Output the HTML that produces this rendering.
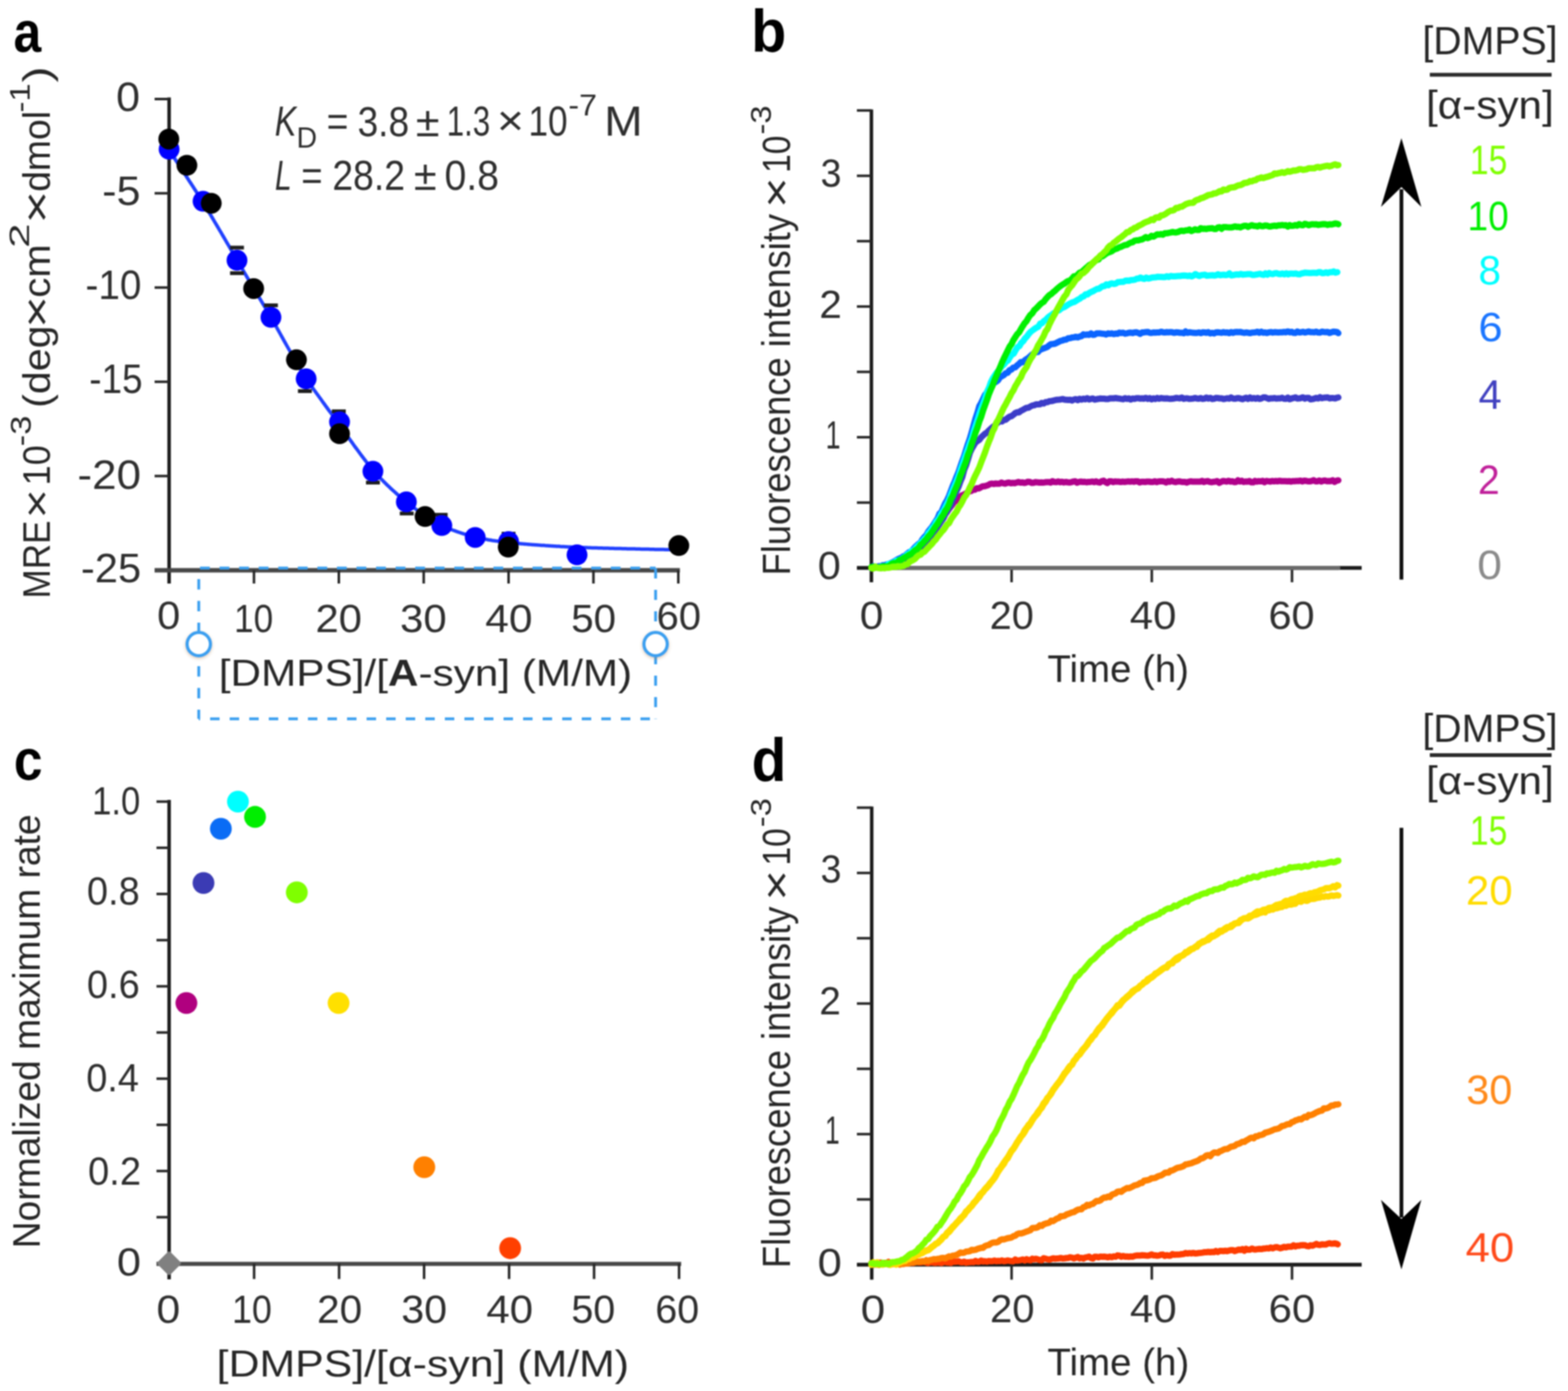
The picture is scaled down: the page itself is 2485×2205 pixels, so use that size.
<!DOCTYPE html>
<html><head><meta charset="utf-8"><title>Figure</title>
<style>
html,body{margin:0;padding:0;background:#fff;}
svg{display:block;} #w{filter:blur(0.8px);}
svg text{font-family:"Liberation Sans", "DejaVu Sans", sans-serif;}
</style></head>
<body><div id="w">
<svg xmlns="http://www.w3.org/2000/svg" width="2485" height="2205" viewBox="0 0 2485 2205" fill="#222">
<rect width="2485" height="2205" fill="#fff"/>
<line x1="268" y1="154.5" x2="268" y2="925" stroke="#1a1a1a" stroke-width="5.5"/>
<line x1="245" y1="157" x2="268" y2="157" stroke="#262626" stroke-width="4"/>
<line x1="245" y1="306.4" x2="268" y2="306.4" stroke="#262626" stroke-width="4"/>
<line x1="245" y1="455.8" x2="268" y2="455.8" stroke="#262626" stroke-width="4"/>
<line x1="245" y1="605.2" x2="268" y2="605.2" stroke="#262626" stroke-width="4"/>
<line x1="245" y1="754.6" x2="268" y2="754.6" stroke="#262626" stroke-width="4"/>
<line x1="245" y1="904" x2="1077.5" y2="904" stroke="#474747" stroke-width="7"/>
<line x1="402.5" y1="904" x2="402.5" y2="925" stroke="#262626" stroke-width="4"/>
<line x1="537" y1="904" x2="537" y2="925" stroke="#262626" stroke-width="4"/>
<line x1="671.5" y1="904" x2="671.5" y2="925" stroke="#262626" stroke-width="4"/>
<line x1="806" y1="904" x2="806" y2="925" stroke="#262626" stroke-width="4"/>
<line x1="940.5" y1="904" x2="940.5" y2="925" stroke="#262626" stroke-width="4"/>
<line x1="1075" y1="904" x2="1075" y2="925" stroke="#262626" stroke-width="4"/>
<g stroke="#3a9ff0" stroke-width="4.5" fill="none">
<line x1="315" y1="900.5" x2="1039" y2="900.5" stroke-dasharray="15.5 15.5" stroke-dashoffset="-2"/>
<line x1="315" y1="1139.5" x2="1039" y2="1139.5" stroke-dasharray="15 16" stroke-dashoffset="-18"/>
<line x1="315" y1="901" x2="315" y2="1139.5" stroke-dasharray="16.5 18" stroke-dashoffset="-17"/>
<line x1="1039" y1="901" x2="1039" y2="1139.5" stroke-dasharray="16 18" stroke-dashoffset="0"/>
</g>
<path d="M268 238 L270 241 L272 244 L274 247.1 L276 250.1 L278 253.1 L280 256.2 L282 259.2 L284 262.3 L286 265.3 L288 268.4 L290 271.5 L292 274.5 L294 277.6 L296 280.7 L298 283.8 L300 286.9 L302 289.9 L304 293 L306 296.1 L308 299.2 L310 302.3 L312 305.4 L314 308.6 L316 311.7 L318 314.9 L320 318.1 L322 321.3 L324 324.6 L326 327.8 L328 331.1 L330 334.5 L332 337.8 L334 341.1 L336 344.5 L338 347.9 L340 351.3 L342 354.7 L344 358 L346 361.4 L348 364.8 L350 368.2 L352 371.6 L354 375 L356 378.4 L358 381.8 L360 385.3 L362 388.7 L364 392.1 L366 395.5 L368 399 L370 402.4 L372 405.8 L374 409.3 L376 412.7 L378 416.1 L380 419.5 L382 423 L384 426.4 L386 429.8 L388 433.3 L390 436.7 L392 440.1 L394 443.5 L396 447 L398 450.4 L400 453.8 L402 457.2 L404 460.5 L406 463.9 L408 467.2 L410 470.5 L412 473.8 L414 477.2 L416 480.5 L418 483.8 L420 487.1 L422 490.4 L424 493.8 L426 497.2 L428 500.6 L430 504 L432 507.5 L434 511.1 L436 514.6 L438 518.2 L440 521.8 L442 525.4 L444 529 L446 532.6 L448 536.2 L450 539.8 L452 543.4 L454 547 L456 550.5 L458 554 L460 557.5 L462 561 L464 564.6 L466 568.1 L468 571.6 L470 575.1 L472 578.6 L474 582 L476 585.4 L478 588.7 L480 591.9 L482 595.1 L484 598.2 L486 601.3 L488 604.3 L490 607.2 L492 610 L494 612.9 L496 615.7 L498 618.5 L500 621.2 L502 624 L504 626.7 L506 629.5 L508 632.2 L510 635 L512 637.8 L514 640.5 L516 643.3 L518 646 L520 648.8 L522 651.5 L524 654.2 L526 656.9 L528 659.6 L530 662.4 L532 665.1 L534 667.9 L536 670.6 L538 673.4 L540 676.2 L542 679 L544 681.9 L546 684.7 L548 687.6 L550 690.4 L552 693.3 L554 696.1 L556 698.9 L558 701.7 L560 704.5 L562 707.3 L564 710 L566 712.7 L568 715.4 L570 718.1 L572 720.8 L574 723.5 L576 726.2 L578 728.8 L580 731.4 L582 734 L584 736.6 L586 739 L588 741.5 L590 743.8 L592 746.1 L594 748.4 L596 750.6 L598 752.8 L600 755 L602 757.1 L604 759.2 L606 761.2 L608 763.3 L610 765.3 L612 767.2 L614 769.2 L616 771.1 L618 773 L620 774.9 L622 776.7 L624 778.5 L626 780.3 L628 782.1 L630 783.9 L632 785.6 L634 787.3 L636 789 L638 790.6 L640 792.3 L642 793.9 L644 795.5 L646 797.1 L648 798.7 L650 800.3 L652 801.8 L654 803.4 L656 804.9 L658 806.4 L660 807.9 L662 809.4 L664 810.8 L666 812.2 L668 813.6 L670 815 L672 816.3 L674 817.6 L676 818.9 L678 820.2 L680 821.5 L682 822.8 L684 824 L686 825.2 L688 826.4 L690 827.5 L692 828.7 L694 829.8 L696 830.8 L698 831.8 L700 832.8 L702 833.7 L704 834.6 L706 835.5 L708 836.4 L710 837.3 L712 838.1 L714 838.9 L716 839.7 L718 840.5 L720 841.2 L722 841.9 L724 842.7 L726 843.3 L728 844 L730 844.7 L732 845.3 L734 846 L736 846.6 L738 847.2 L740 847.8 L742 848.4 L744 848.9 L746 849.5 L748 850 L750 850.5 L752 851 L754 851.5 L756 851.9 L758 852.4 L760 852.9 L762 853.3 L764 853.7 L766 854.1 L768 854.5 L770 854.9 L772 855.3 L774 855.7 L776 856 L778 856.3 L780 856.7 L782 857 L784 857.3 L786 857.6 L788 857.8 L790 858.1 L792 858.4 L794 858.6 L796 858.9 L798 859.1 L800 859.3 L802 859.6 L804 859.8 L806 860 L808 860.2 L810 860.4 L812 860.6 L814 860.8 L816 861 L818 861.2 L820 861.4 L822 861.6 L824 861.7 L826 861.9 L828 862.1 L830 862.2 L832 862.4 L834 862.6 L836 862.7 L838 862.9 L840 863.1 L842 863.2 L844 863.4 L846 863.5 L848 863.7 L850 863.8 L852 863.9 L854 864.1 L856 864.2 L858 864.4 L860 864.5 L862 864.6 L864 864.8 L866 864.9 L868 865 L870 865.2 L872 865.3 L874 865.4 L876 865.5 L878 865.7 L880 865.8 L882 865.9 L884 866 L886 866.1 L888 866.3 L890 866.4 L892 866.5 L894 866.6 L896 866.7 L898 866.8 L900 866.9 L902 867 L904 867.1 L906 867.2 L908 867.3 L910 867.4 L912 867.4 L914 867.5 L916 867.6 L918 867.7 L920 867.7 L922 867.8 L924 867.9 L926 868 L928 868 L930 868.1 L932 868.2 L934 868.2 L936 868.3 L938 868.4 L940 868.4 L942 868.5 L944 868.5 L946 868.6 L948 868.7 L950 868.7 L952 868.8 L954 868.8 L956 868.9 L958 868.9 L960 869 L962 869.1 L964 869.1 L966 869.2 L968 869.2 L970 869.3 L972 869.3 L974 869.4 L976 869.4 L978 869.5 L980 869.5 L982 869.6 L984 869.6 L986 869.7 L988 869.7 L990 869.8 L992 869.8 L994 869.9 L996 869.9 L998 870 L1000 870 L1002 870 L1004 870.1 L1006 870.1 L1008 870.2 L1010 870.2 L1012 870.3 L1014 870.3 L1016 870.4 L1018 870.4 L1020 870.5 L1022 870.5 L1024 870.6 L1026 870.6 L1028 870.6 L1030 870.7 L1032 870.7 L1034 870.8 L1036 870.8 L1038 870.9 L1040 870.9 L1042 870.9 L1044 871 L1046 871 L1048 871.1 L1050 871.1 L1052 871.1 L1054 871.2 L1056 871.2 L1058 871.2 L1060 871.3 L1062 871.3 L1064 871.4 L1066 871.4 L1068 871.4 L1070 871.5 L1072 871.5" fill="none" stroke="#2040ff" stroke-width="5.5" stroke-linejoin="round" stroke-linecap="round"/>
<rect x="364.6" y="389.5" width="22" height="6" fill="#1e1e1e"/>
<rect x="364.6" y="430" width="22" height="6" fill="#1e1e1e"/>
<rect x="418.4" y="481" width="22" height="6" fill="#1e1e1e"/>
<rect x="526" y="649" width="22" height="6" fill="#1e1e1e"/>
<rect x="580" y="762" width="22" height="6" fill="#1e1e1e"/>
<rect x="633.6" y="811" width="22" height="6" fill="#1e1e1e"/>
<rect x="687.4" y="813" width="22" height="6" fill="#1e1e1e"/>
<rect x="795" y="843" width="22" height="6" fill="#1e1e1e"/>
<rect x="472.2" y="617" width="22" height="6" fill="#1e1e1e"/>
<circle cx="268" cy="236.5" r="16.5" fill="#0000ff"/>
<circle cx="321.8" cy="319" r="16.5" fill="#0000ff"/>
<circle cx="375.6" cy="412.6" r="16.5" fill="#0000ff"/>
<circle cx="429.4" cy="503" r="16.5" fill="#0000ff"/>
<circle cx="485.2" cy="600.5" r="16.5" fill="#0000ff"/>
<circle cx="538.1" cy="668.8" r="16.5" fill="#0000ff"/>
<circle cx="591" cy="747.1" r="16.5" fill="#0000ff"/>
<circle cx="644" cy="795.6" r="16.5" fill="#0000ff"/>
<circle cx="700.2" cy="833.1" r="16.5" fill="#0000ff"/>
<circle cx="753.1" cy="851.9" r="16.5" fill="#0000ff"/>
<circle cx="806" cy="858.5" r="16.5" fill="#0000ff"/>
<circle cx="914.5" cy="879.5" r="16.5" fill="#0000ff"/>
<circle cx="267.5" cy="220.4" r="16.5" fill="#000"/>
<circle cx="296.2" cy="262" r="16.5" fill="#000"/>
<circle cx="334.8" cy="322.2" r="16.5" fill="#000"/>
<circle cx="402" cy="457.4" r="16.5" fill="#000"/>
<circle cx="469.8" cy="570.3" r="16.5" fill="#000"/>
<circle cx="538.1" cy="687.6" r="16.5" fill="#000"/>
<circle cx="673.7" cy="818.8" r="16.5" fill="#000"/>
<circle cx="805.5" cy="867.3" r="16.5" fill="#000"/>
<circle cx="1075.8" cy="864.8" r="16.5" fill="#000"/>
<defs><filter id="sh" x="-50%" y="-50%" width="200%" height="200%"><feDropShadow dx="0" dy="2" stdDeviation="2.5" flood-color="#b08050" flood-opacity="0.45"/></filter></defs>
<circle cx="315" cy="1021" r="18.5" fill="#fff" stroke="#3a9ff0" stroke-width="5" filter="url(#sh)"/>
<circle cx="1039" cy="1021" r="18.5" fill="#fff" stroke="#3a9ff0" stroke-width="5" filter="url(#sh)"/>
<line x1="1381" y1="173.5" x2="1381" y2="923" stroke="#1a1a1a" stroke-width="5.5"/>
<line x1="1358" y1="900.3" x2="1381" y2="900.3" stroke="#262626" stroke-width="4"/>
<line x1="1358" y1="796.7" x2="1381" y2="796.7" stroke="#262626" stroke-width="4"/>
<line x1="1358" y1="693.1" x2="1381" y2="693.1" stroke="#262626" stroke-width="4"/>
<line x1="1358" y1="589.5" x2="1381" y2="589.5" stroke="#262626" stroke-width="4"/>
<line x1="1358" y1="485.9" x2="1381" y2="485.9" stroke="#262626" stroke-width="4"/>
<line x1="1358" y1="382.3" x2="1381" y2="382.3" stroke="#262626" stroke-width="4"/>
<line x1="1358" y1="278.7" x2="1381" y2="278.7" stroke="#262626" stroke-width="4"/>
<line x1="1358" y1="175.1" x2="1381" y2="175.1" stroke="#262626" stroke-width="4"/>
<line x1="1358" y1="900.3" x2="2158" y2="900.3" stroke="#1a1a1a" stroke-width="6"/>
<line x1="1603.2" y1="900" x2="1603.2" y2="923" stroke="#262626" stroke-width="4"/>
<line x1="1825.4" y1="900" x2="1825.4" y2="923" stroke="#262626" stroke-width="4"/>
<line x1="2047.6" y1="900" x2="2047.6" y2="923" stroke="#262626" stroke-width="4"/>
<path d="M1381 900.3 L2121 900.3" fill="none" stroke="#6a6a6a" stroke-width="6.5" stroke-linejoin="round" stroke-linecap="round"/>
<path d="M1383 899.7 L1386 900 L1389 899.6 L1392 898.3 L1395 899.7 L1398 899.2 L1401 898.2 L1404 898.6 L1407 897.8 L1410 896.8 L1413 895.5 L1416 894.6 L1419 892.6 L1422 891.7 L1425 890 L1428 889.2 L1431 887.2 L1434 885.3 L1437 883.1 L1440 881.6 L1443 879.8 L1446 877.5 L1449 876.3 L1452 873.7 L1455 868.6 L1458 866.4 L1461 864.7 L1464 861.4 L1467 858.6 L1470 855.3 L1473 853.1 L1476 847.1 L1479 843.6 L1482 840.8 L1485 834.6 L1488 828 L1491 821.6 L1494 817.3 L1497 815.7 L1500 812.7 L1503 808.2 L1506 804.3 L1509 800.4 L1512 796.2 L1515 793.7 L1518 790.9 L1521 788.2 L1524 785.5 L1527 784.3 L1530 782.8 L1533 780.9 L1536 778.7 L1539 778.5 L1542 776.4 L1545 776.2 L1548 773.9 L1551 774.3 L1554 772.8 L1557 771 L1560 770.8 L1563 770 L1566 769 L1569 767.2 L1572 766.6 L1575 767.2 L1578 766.4 L1581 766.7 L1584 766.8 L1587 765 L1590 766.1 L1593 766.7 L1596 765.5 L1599 765 L1602 766 L1605 765.5 L1608 765.9 L1611 765 L1614 764.1 L1617 765 L1620 764.7 L1623 765.5 L1626 765 L1629 763.7 L1632 764 L1635 765.4 L1638 765.2 L1641 764.2 L1644 764.6 L1647 764.9 L1650 764.8 L1653 765.1 L1656 764.6 L1659 764.3 L1662 764.2 L1665 765 L1668 762.7 L1671 764.1 L1674 764.2 L1677 763.2 L1680 764.4 L1683 763.7 L1686 764.7 L1689 764 L1692 764.5 L1695 764.9 L1698 764.3 L1701 763.4 L1704 762.9 L1707 765.2 L1710 763.9 L1713 763.5 L1716 764 L1719 763.8 L1722 764.5 L1725 763.9 L1728 763.9 L1731 763.4 L1734 764.2 L1737 763.1 L1740 764.3 L1743 764.9 L1746 762.8 L1749 762.1 L1752 764.2 L1755 765.6 L1758 763.1 L1761 762.9 L1764 764.2 L1767 763.2 L1770 763.4 L1773 763.5 L1776 764.1 L1779 763.5 L1782 763.9 L1785 763.6 L1788 763.1 L1791 763.5 L1794 763.1 L1797 763.7 L1800 762.9 L1803 762.9 L1806 764.7 L1809 763.7 L1812 763.7 L1815 764 L1818 763.4 L1821 763.5 L1824 764 L1827 763.9 L1830 762.9 L1833 764.2 L1836 763.2 L1839 762.9 L1842 763 L1845 763.4 L1848 764.8 L1851 762.8 L1854 763.7 L1857 762.1 L1860 763.6 L1863 764.2 L1866 763.4 L1869 763.1 L1872 763.7 L1875 764.1 L1878 764 L1881 764.9 L1884 763.7 L1887 763.1 L1890 763.4 L1893 763.5 L1896 763.6 L1899 763.5 L1902 763.6 L1905 762.3 L1908 764.1 L1911 763.1 L1914 762.6 L1917 763.9 L1920 764.4 L1923 763.8 L1926 763.5 L1929 762.7 L1932 765.4 L1935 764 L1938 762.6 L1941 762.8 L1944 763.4 L1947 762.2 L1950 763.4 L1953 763 L1956 764.2 L1959 764 L1962 761.4 L1965 763.3 L1968 762.1 L1971 764 L1974 763.3 L1977 763.6 L1980 762.5 L1983 764.5 L1986 764.6 L1989 762.4 L1992 763.4 L1995 762.7 L1998 763.1 L2001 762.2 L2004 764.4 L2007 762.4 L2010 762.9 L2013 763.4 L2016 762.6 L2019 762.9 L2022 762.6 L2025 762.9 L2028 762.2 L2031 762.7 L2034 762.8 L2037 762.7 L2040 763 L2043 762.7 L2046 763.4 L2049 762.7 L2052 762.8 L2055 762.4 L2058 762.5 L2061 761.9 L2064 763.2 L2067 762 L2070 762.3 L2073 763 L2076 763 L2079 762.4 L2082 761.3 L2085 763 L2088 762.9 L2091 761.7 L2094 763.2 L2097 762.1 L2100 761.8 L2103 762.7 L2106 762.5 L2109 762.7 L2112 761.4 L2115 763.8 L2118 762.1 L2121 761.4" fill="none" stroke="#b0008a" stroke-width="10" stroke-linejoin="round" stroke-linecap="round"/>
<path d="M1384 899.6 L1387 899.1 L1390 899.1 L1393 897.5 L1396 900.3 L1399 899.6 L1402 898.4 L1405 898.8 L1408 897.7 L1411 896.2 L1414 896.1 L1417 894 L1420 892.9 L1423 891.2 L1426 890.7 L1429 888.7 L1432 887.6 L1435 885 L1438 883.8 L1441 881.2 L1444 880.4 L1447 877.8 L1450 875.6 L1453 873.3 L1456 869.8 L1459 868.3 L1462 866.3 L1465 860.6 L1468 857.3 L1471 854 L1474 852.1 L1477 847.7 L1480 844.2 L1483 839.7 L1486 835.1 L1489 830.7 L1492 825.9 L1495 821.8 L1498 815.4 L1501 810.5 L1504 805.3 L1507 800.4 L1510 792.1 L1513 785 L1516 778.1 L1519 771.7 L1522 763.3 L1525 756.2 L1528 744.9 L1531 737.6 L1534 728.3 L1537 718 L1540 711.6 L1543 706.4 L1546 701.5 L1549 699.1 L1552 697.2 L1555 693.2 L1558 690.4 L1561 687.6 L1564 685.9 L1567 682.6 L1570 679.8 L1573 677.2 L1576 675.2 L1579 671.8 L1582 669.5 L1585 667.1 L1588 668.1 L1591 665.7 L1594 665.2 L1597 662.6 L1600 660.5 L1603 659.6 L1606 657.5 L1609 654.9 L1612 653.5 L1615 653.7 L1618 651.2 L1621 649.8 L1624 648 L1627 646.4 L1630 646.3 L1633 644.4 L1636 642.9 L1639 642.4 L1642 641 L1645 640.9 L1648 640.8 L1651 638.7 L1654 639.6 L1657 637.5 L1660 637.4 L1663 636 L1666 635.7 L1669 635.2 L1672 634.3 L1675 633.7 L1678 633.5 L1681 633.2 L1684 632.6 L1687 633.4 L1690 633.7 L1693 634 L1696 633.7 L1699 634.9 L1702 633.3 L1705 632.7 L1708 634.3 L1711 632.2 L1714 633.5 L1717 632.1 L1720 632.9 L1723 631.2 L1726 633.2 L1729 632.4 L1732 631.7 L1735 633.5 L1738 632.8 L1741 632.3 L1744 631.7 L1747 632.1 L1750 632 L1753 632.6 L1756 632.6 L1759 631.5 L1762 631.6 L1765 631.6 L1768 631 L1771 631.5 L1774 631.9 L1777 632.4 L1780 632.8 L1783 631.3 L1786 632.3 L1789 631.6 L1792 633.3 L1795 631.8 L1798 632.2 L1801 631.2 L1804 631.2 L1807 631.9 L1810 631.5 L1813 632 L1816 630.7 L1819 632.2 L1822 631.1 L1825 633 L1828 631.5 L1831 632.5 L1834 630.8 L1837 632 L1840 631.1 L1843 631.4 L1846 631.7 L1849 631.5 L1852 631.9 L1855 632.2 L1858 632.1 L1861 631.6 L1864 630.7 L1867 631.1 L1870 631.5 L1873 630.2 L1876 632.2 L1879 631.5 L1882 631.5 L1885 632.3 L1888 632.1 L1891 631.8 L1894 630.9 L1897 631.8 L1900 631.9 L1903 631 L1906 632.3 L1909 631.9 L1912 630.2 L1915 631.7 L1918 630.7 L1921 632.4 L1924 632.1 L1927 630.8 L1930 630.9 L1933 631.6 L1936 631.4 L1939 632.6 L1942 632 L1945 631.3 L1948 631.9 L1951 630.1 L1954 631.7 L1957 632.1 L1960 631.3 L1963 631 L1966 631.9 L1969 632.8 L1972 631.6 L1975 630.6 L1978 632.4 L1981 630.1 L1984 631.8 L1987 631 L1990 632 L1993 630.8 L1996 632.3 L1999 631.6 L2002 630.1 L2005 630 L2008 631.1 L2011 632.2 L2014 631.4 L2017 631.4 L2020 631.1 L2023 631.8 L2026 631.5 L2029 631.5 L2032 630.6 L2035 632.1 L2038 632.2 L2041 630.3 L2044 632.8 L2047 631.7 L2050 630.9 L2053 629.9 L2056 631.7 L2059 631.6 L2062 630.8 L2065 629.9 L2068 631.9 L2071 630.7 L2074 630.8 L2077 633.1 L2080 632.6 L2083 631.8 L2086 630.8 L2089 631.6 L2092 629.5 L2095 631.2 L2098 630.5 L2101 630.2 L2104 629.9 L2107 631.4 L2110 631.1 L2113 631.1 L2116 631.6 L2119 630.4 L2121 630.1" fill="none" stroke="#3c3cc8" stroke-width="10" stroke-linejoin="round" stroke-linecap="round"/>
<path d="M1381 900.9 L1384 897.6 L1387 899.5 L1390 898.6 L1393 898.3 L1396 898 L1399 896 L1402 896.3 L1405 894.8 L1408 896.6 L1411 893.2 L1414 891.5 L1417 890.2 L1420 888.3 L1423 886.4 L1426 885.2 L1429 884 L1432 881.6 L1435 880.5 L1438 877.5 L1441 875.4 L1444 874.1 L1447 870.9 L1450 867.4 L1453 864.7 L1456 862.1 L1459 859.8 L1462 854.9 L1465 851.3 L1468 848.3 L1471 842.8 L1474 839 L1477 835.5 L1480 830.9 L1483 826 L1486 821.7 L1489 814.2 L1492 811.5 L1495 804.5 L1498 797.9 L1501 792.9 L1504 786.3 L1507 778.3 L1510 770.3 L1513 763.5 L1516 755.6 L1519 748.5 L1522 739.7 L1525 730.9 L1528 722.9 L1531 713.2 L1534 703.8 L1537 695.3 L1540 685.2 L1543 674.3 L1546 663.7 L1549 654.7 L1552 644 L1555 638.7 L1558 632.5 L1561 626 L1564 622.5 L1567 617.3 L1570 614.5 L1573 609.1 L1576 606.7 L1579 604.9 L1582 602.5 L1585 597.6 L1588 596.3 L1591 594.5 L1594 591.5 L1597 590.8 L1600 586.7 L1603 585.7 L1606 582.6 L1609 582.2 L1612 579.2 L1615 576.9 L1618 573.9 L1621 574.2 L1624 571.3 L1627 569.1 L1630 567.2 L1633 564.5 L1636 561.8 L1639 559.8 L1642 558.1 L1645 558 L1648 554.4 L1651 553.5 L1654 552.2 L1657 551.1 L1660 549.9 L1663 547.2 L1666 545.4 L1669 545.3 L1672 544.8 L1675 543.3 L1678 541.8 L1681 540.3 L1684 539.7 L1687 538.4 L1690 538.2 L1693 536.2 L1696 536 L1699 535.1 L1702 534.8 L1705 533.9 L1708 534.8 L1711 533.5 L1714 532.9 L1717 530 L1720 530.8 L1723 530.2 L1726 530.7 L1729 528.5 L1732 530.7 L1735 530.4 L1738 528.5 L1741 528.6 L1744 528.6 L1747 529 L1750 529.3 L1753 530.2 L1756 528.5 L1759 529.1 L1762 528.5 L1765 529.6 L1768 528.8 L1771 529.1 L1774 527.3 L1777 527.9 L1780 527.4 L1783 528.9 L1786 528.3 L1789 527.5 L1792 527.3 L1795 527.9 L1798 527 L1801 526.8 L1804 527.7 L1807 529.1 L1810 527.1 L1813 526.9 L1816 526.4 L1819 526.2 L1822 527.5 L1825 527.7 L1828 527.1 L1831 527.3 L1834 527.1 L1837 527.1 L1840 525.9 L1843 526.7 L1846 527.1 L1849 526.5 L1852 526.7 L1855 526.4 L1858 526.8 L1861 527.6 L1864 526.7 L1867 526.9 L1870 527.6 L1873 527.5 L1876 528.2 L1879 525.5 L1882 527.6 L1885 526.7 L1888 527.1 L1891 527.6 L1894 527.8 L1897 527.7 L1900 527.1 L1903 528.1 L1906 526.8 L1909 526.9 L1912 527.6 L1915 526.6 L1918 528.5 L1921 527.7 L1924 528.5 L1927 527 L1930 526.7 L1933 527.1 L1936 527.5 L1939 526.6 L1942 527.3 L1945 527 L1948 528.1 L1951 526.5 L1954 527.7 L1957 526.5 L1960 526.3 L1963 526.5 L1966 526.2 L1969 527.1 L1972 527.7 L1975 527.1 L1978 527.4 L1981 528.1 L1984 527.2 L1987 527.1 L1990 526.8 L1993 525.9 L1996 527.5 L1999 525.8 L2002 527.4 L2005 527 L2008 527.8 L2011 526.9 L2014 526.4 L2017 527.2 L2020 526.6 L2023 526.8 L2026 527 L2029 526.8 L2032 526.8 L2035 526.3 L2038 526.8 L2041 525.4 L2044 526.8 L2047 526 L2050 527.6 L2053 527.7 L2056 525.5 L2059 526.9 L2062 526.7 L2065 526 L2068 527.1 L2071 526.4 L2074 525.5 L2077 526.5 L2080 526.6 L2083 526.8 L2086 525.8 L2089 527.1 L2092 527.2 L2095 525.8 L2098 526.2 L2101 526.5 L2104 526.2 L2107 527.8 L2110 526.7 L2113 525.8 L2116 526 L2119 526.5 L2121 528.1" fill="none" stroke="#0a64ff" stroke-width="10" stroke-linejoin="round" stroke-linecap="round"/>
<path d="M1396.5 898 L1399.5 897.7 L1402.5 898.1 L1405.5 896.5 L1408.5 893.8 L1411.5 893.9 L1414.5 892.2 L1417.5 891.4 L1420.5 888.7 L1423.5 888.4 L1426.5 886.8 L1429.5 886 L1432.5 883.3 L1435.5 881.5 L1438.5 878.1 L1441.5 878.5 L1444.5 873.3 L1447.5 873 L1450.5 869.4 L1453.5 866.2 L1456.5 863.4 L1459.5 860.2 L1462.5 857.6 L1465.5 853.9 L1468.5 851.2 L1471.5 844.9 L1474.5 842 L1477.5 837.2 L1480.5 834 L1483.5 827.5 L1486.5 824.2 L1489.5 819.7 L1492.5 813.4 L1495.5 809.6 L1498.5 803.3 L1501.5 797.7 L1504.5 791.1 L1507.5 782.7 L1510.5 775.6 L1513.5 768.4 L1516.5 761.4 L1519.5 753.5 L1522.5 744.2 L1525.5 735.9 L1528.5 727.2 L1531.5 718.7 L1534.5 710.3 L1537.5 701.5 L1540.5 694 L1543.5 683 L1546.5 673.9 L1549.5 665.2 L1552.5 655.3 L1555.5 647.2 L1558.5 638.9 L1561.5 630.6 L1564.5 620.6 L1567.5 614.3 L1570.5 605.7 L1573.5 599.8 L1576.5 595.2 L1579.5 590.9 L1582.5 587.5 L1585.5 583.5 L1588.5 580.2 L1591.5 577.4 L1594.5 573.3 L1597.5 571.5 L1600.5 566.3 L1603.5 562.1 L1606.5 560.5 L1609.5 555 L1612.5 550.4 L1615.5 548.7 L1618.5 543.5 L1621.5 541 L1624.5 536.3 L1627.5 533.4 L1630.5 529.2 L1633.5 525.9 L1636.5 523.6 L1639.5 521.4 L1642.5 519.3 L1645.5 518 L1648.5 513.1 L1651.5 512.2 L1654.5 508.8 L1657.5 506.8 L1660.5 503.6 L1663.5 501.2 L1666.5 499.3 L1669.5 496.7 L1672.5 495.2 L1675.5 492.5 L1678.5 491.8 L1681.5 489.2 L1684.5 487.4 L1687.5 486.4 L1690.5 484.4 L1693.5 482.4 L1696.5 480.9 L1699.5 479.3 L1702.5 478.6 L1705.5 476.8 L1708.5 474.9 L1711.5 473.4 L1714.5 470.7 L1717.5 469.7 L1720.5 466.6 L1723.5 466.8 L1726.5 464.2 L1729.5 462.7 L1732.5 461.5 L1735.5 459.6 L1738.5 458.1 L1741.5 457.8 L1744.5 455.7 L1747.5 453.7 L1750.5 453.4 L1753.5 450.8 L1756.5 452.1 L1759.5 449.9 L1762.5 449.2 L1765.5 450.1 L1768.5 449.3 L1771.5 447.3 L1774.5 447.1 L1777.5 446.8 L1780.5 446.7 L1783.5 445 L1786.5 444.7 L1789.5 445 L1792.5 443.9 L1795.5 443.8 L1798.5 443.4 L1801.5 441.8 L1804.5 441.6 L1807.5 440 L1810.5 441.4 L1813.5 442.1 L1816.5 440.1 L1819.5 441.5 L1822.5 441 L1825.5 440 L1828.5 439.8 L1831.5 439.6 L1834.5 438.7 L1837.5 439 L1840.5 438.9 L1843.5 439.2 L1846.5 439.2 L1849.5 437.9 L1852.5 438.9 L1855.5 437.6 L1858.5 437.9 L1861.5 438.1 L1864.5 437.7 L1867.5 437.5 L1870.5 437.6 L1873.5 436.9 L1876.5 436.7 L1879.5 436.9 L1882.5 437.6 L1885.5 436.8 L1888.5 438.1 L1891.5 436.8 L1894.5 434.5 L1897.5 436.1 L1900.5 437.5 L1903.5 436.3 L1906.5 435.9 L1909.5 435.5 L1912.5 437 L1915.5 436.7 L1918.5 436.4 L1921.5 436.2 L1924.5 436.8 L1927.5 436.3 L1930.5 434.8 L1933.5 436.2 L1936.5 435.7 L1939.5 435.5 L1942.5 436.1 L1945.5 435.5 L1948.5 433.4 L1951.5 436.5 L1954.5 436.1 L1957.5 435.3 L1960.5 435 L1963.5 435.4 L1966.5 434.3 L1969.5 435.4 L1972.5 435 L1975.5 434.8 L1978.5 434.4 L1981.5 434.5 L1984.5 435.7 L1987.5 435.8 L1990.5 435.2 L1993.5 434.7 L1996.5 434.1 L1999.5 435.1 L2002.5 435.7 L2005.5 433.4 L2008.5 435.3 L2011.5 432.9 L2014.5 434.1 L2017.5 434.5 L2020.5 433.2 L2023.5 433.1 L2026.5 434.2 L2029.5 434.6 L2032.5 433.6 L2035.5 434.8 L2038.5 433.2 L2041.5 434.9 L2044.5 433.7 L2047.5 433.7 L2050.5 433.9 L2053.5 433.6 L2056.5 434.6 L2059.5 434.8 L2062.5 433.5 L2065.5 433 L2068.5 432.2 L2071.5 432.4 L2074.5 432.8 L2077.5 432.7 L2080.5 432.6 L2083.5 432.6 L2086.5 432.8 L2089.5 431.5 L2092.5 431.6 L2095.5 433 L2098.5 432.7 L2101.5 431.7 L2104.5 432.9 L2107.5 431.4 L2110.5 431.6 L2113.5 430.4 L2116.5 432.2 L2119.4 431.5" fill="none" stroke="#00ffff" stroke-width="10" stroke-linejoin="round" stroke-linecap="round"/>
<path d="M1381 898.9 L1384 898.5 L1387 899.2 L1390 899.5 L1393 899.9 L1396 898.9 L1399 898.2 L1402 897.7 L1405 898 L1408 897.7 L1411 895.6 L1414 893.4 L1417 892.4 L1420 892.9 L1423 890.5 L1426 887.6 L1429 887.1 L1432 884.7 L1435 883.2 L1438 881.5 L1441 879.3 L1444 878.1 L1447 875.4 L1450 872.6 L1453 870.8 L1456 868.3 L1459 863.7 L1462 861.6 L1465 857.8 L1468 855 L1471 850.6 L1474 847.6 L1477 843.4 L1480 839 L1483 834.2 L1486 830.2 L1489 825.2 L1492 820.3 L1495 816.3 L1498 810 L1501 805.9 L1504 799.6 L1507 791.3 L1510 786 L1513 777.8 L1516 771.1 L1519 763.5 L1522 754.2 L1525 747.3 L1528 738.9 L1531 731.3 L1534 721.2 L1537 713.8 L1540 703.8 L1543 695.4 L1546 685.8 L1549 678.2 L1552 668.3 L1555 660.6 L1558 650.7 L1561 642.6 L1564 634.4 L1567 625.4 L1570 618 L1573 611.4 L1576 602.8 L1579 595.9 L1582 588.7 L1585 582 L1588 574.5 L1591 568 L1594 561.9 L1597 555.8 L1600 549.6 L1603 545.6 L1606 539.2 L1609 534.6 L1612 529.9 L1615 527 L1618 521.6 L1621 516.7 L1624 512.1 L1627 508.8 L1630 503.5 L1633 499.2 L1636 496.6 L1639 491.8 L1642 489.1 L1645 486.2 L1648 482.9 L1651 480.3 L1654 478.5 L1657 474.4 L1660 471 L1663 467.8 L1666 466.1 L1669 463.3 L1672 461 L1675 458 L1678 455.5 L1681 453.1 L1684 451.1 L1687 449.5 L1690 447.1 L1693 445.4 L1696 444.6 L1699 441.6 L1702 438 L1705 438.3 L1708 435.3 L1711 432.3 L1714 431.4 L1717 428.6 L1720 425.9 L1723 423.4 L1726 420.6 L1729 418.9 L1732 417.1 L1735 413.8 L1738 412.2 L1741 411.3 L1744 407.2 L1747 406.4 L1750 404.3 L1753 402 L1756 400.4 L1759 399.5 L1762 398.1 L1765 395.9 L1768 394.7 L1771 393.7 L1774 392 L1777 391.1 L1780 389.6 L1783 388.4 L1786 388.1 L1789 386.1 L1792 384.6 L1795 383.9 L1798 381.7 L1801 381.1 L1804 380.9 L1807 379.9 L1810 379.6 L1813 377.7 L1816 375.9 L1819 377.5 L1822 376.2 L1825 373.9 L1828 375 L1831 373.4 L1834 371.4 L1837 371.8 L1840 371.1 L1843 372 L1846 369.8 L1849 369.7 L1852 369.2 L1855 368.6 L1858 367.8 L1861 368.2 L1864 368.4 L1867 367.7 L1870 366.2 L1873 365.7 L1876 366.2 L1879 365.3 L1882 365 L1885 363.9 L1888 366.2 L1891 365.1 L1894 363.5 L1897 364.5 L1900 364.6 L1903 361.7 L1906 362.7 L1909 362.5 L1912 363 L1915 362.2 L1918 361.9 L1921 361.8 L1924 362.9 L1927 362.9 L1930 360.8 L1933 360.3 L1936 362.7 L1939 359.9 L1942 360 L1945 360.3 L1948 360.4 L1951 360.6 L1954 360 L1957 358.9 L1960 359.7 L1963 359.4 L1966 360.4 L1969 358.9 L1972 357.9 L1975 357.9 L1978 359.6 L1981 358.1 L1984 356.9 L1987 357.9 L1990 358.2 L1993 359 L1996 357.3 L1999 358.4 L2002 358.5 L2005 357.4 L2008 357.7 L2011 359 L2014 358.9 L2017 358.2 L2020 357.8 L2023 358.3 L2026 357.3 L2029 357.3 L2032 356.7 L2035 357.3 L2038 357.1 L2041 359.1 L2044 356.9 L2047 357.9 L2050 357.8 L2053 356.7 L2056 357.6 L2059 355.2 L2062 356.7 L2065 357.1 L2068 354.8 L2071 355.6 L2074 357 L2077 356 L2080 355.4 L2083 355.8 L2086 355.6 L2089 356.4 L2092 356.1 L2095 355.5 L2098 355.2 L2101 355.5 L2104 356.4 L2107 355.6 L2110 355.8 L2113 355.1 L2116 354.2 L2119 354.6 L2121 355.5" fill="none" stroke="#00f000" stroke-width="10" stroke-linejoin="round" stroke-linecap="round"/>
<path d="M1381 900.7 L1384 901.2 L1387 898.2 L1390 899.9 L1393 900.6 L1396 900.8 L1399 900.3 L1402 900.8 L1405 899.9 L1408 899.9 L1411 899.6 L1414 898.5 L1417 898.3 L1420 898.7 L1423 897.5 L1426 898.1 L1429 897.4 L1432 897 L1435 894.8 L1438 894.4 L1441 891.1 L1444 889.3 L1447 887.9 L1450 886 L1453 882.6 L1456 880.2 L1459 879.3 L1462 875.9 L1465 874.6 L1468 871.3 L1471 868.3 L1474 865 L1477 862.2 L1480 858 L1483 855.3 L1486 850.7 L1489 847.3 L1492 843.2 L1495 840.4 L1498 836.1 L1501 831.4 L1504 829.3 L1507 823.3 L1510 818.9 L1513 814.6 L1516 810.9 L1519 804.7 L1522 800.5 L1525 795.1 L1528 788.8 L1531 785 L1534 779.6 L1537 772.9 L1540 767.1 L1543 759.7 L1546 753.2 L1549 747.2 L1552 740.9 L1555 732.7 L1558 725.2 L1561 717.4 L1564 708.5 L1567 700.6 L1570 693.5 L1573 684.4 L1576 678.8 L1579 670.2 L1582 665.3 L1585 658.8 L1588 652.1 L1591 645.7 L1594 640.6 L1597 634.7 L1600 629.5 L1603 623.3 L1606 618.9 L1609 612.4 L1612 607.5 L1615 602.1 L1618 598 L1621 590.7 L1624 586.1 L1627 581.9 L1630 575.3 L1633 569.5 L1636 565.2 L1639 559.3 L1642 554.7 L1645 547.9 L1648 543.2 L1651 537.9 L1654 532.6 L1657 525.5 L1660 521.6 L1663 514.4 L1666 508.2 L1669 502.6 L1672 497.4 L1675 491.1 L1678 485.8 L1681 480.3 L1684 475 L1687 469.9 L1690 466.7 L1693 459.5 L1696 455.6 L1699 452.4 L1702 448 L1705 443.4 L1708 441.1 L1711 437.8 L1714 433.5 L1717 432.8 L1720 430.1 L1723 427.1 L1726 423 L1729 420.4 L1732 416.4 L1735 414.3 L1738 410.7 L1741 408.4 L1744 404.9 L1747 403 L1750 399.9 L1753 397.3 L1756 392.5 L1759 389.5 L1762 388.3 L1765 384.9 L1768 382.9 L1771 380.4 L1774 377.9 L1777 376 L1780 373.4 L1783 371.1 L1786 367.9 L1789 367.7 L1792 364.7 L1795 363.6 L1798 361.4 L1801 360.5 L1804 358.3 L1807 356.9 L1810 355.4 L1813 353.4 L1816 352.1 L1819 351.1 L1822 349.7 L1825 347.8 L1828 348.9 L1831 345.2 L1834 344.4 L1837 345 L1840 341.5 L1843 341.2 L1846 339.8 L1849 337.8 L1852 335.6 L1855 334.1 L1858 333.8 L1861 332.7 L1864 329.5 L1867 329.8 L1870 327.9 L1873 327.6 L1876 325.8 L1879 323.8 L1882 322.8 L1885 321.8 L1888 321.5 L1891 321.4 L1894 318.3 L1897 316.9 L1900 316.1 L1903 314.4 L1906 313.6 L1909 312.3 L1912 310.9 L1915 309.1 L1918 308.7 L1921 308.1 L1924 306.4 L1927 306.4 L1930 304.9 L1933 303.1 L1936 303.4 L1939 300.4 L1942 301.1 L1945 300.6 L1948 298.1 L1951 297.3 L1954 297.1 L1957 296.5 L1960 294.9 L1963 293.8 L1966 293.4 L1969 292 L1972 290 L1975 289.8 L1978 289 L1981 287.1 L1984 287.5 L1987 285.7 L1990 285.7 L1993 283.2 L1996 282.6 L1999 281.2 L2002 282.2 L2005 281.2 L2008 280.4 L2011 279.5 L2014 278.3 L2017 277.5 L2020 274.9 L2023 275.6 L2026 274.5 L2029 274 L2032 272.9 L2035 274.1 L2038 272.9 L2041 271.3 L2044 272.2 L2047 271.4 L2050 270.3 L2053 270.4 L2056 269.7 L2059 268.2 L2062 268.3 L2065 269.3 L2068 268.8 L2071 268.3 L2074 266.8 L2077 266.7 L2080 266.8 L2083 266.7 L2086 265.2 L2089 264.6 L2092 265.7 L2095 264.5 L2098 263.8 L2101 263.1 L2104 262.7 L2107 263.8 L2110 262.9 L2113 261.5 L2116 260.5 L2119 262.1 L2121 261.7" fill="none" stroke="#80ff00" stroke-width="10" stroke-linejoin="round" stroke-linecap="round"/>
<line x1="2266" y1="118.6" x2="2459" y2="118.6" stroke="#2a2a2a" stroke-width="6"/>
<line x1="2221" y1="918.7" x2="2221" y2="300" stroke="#111" stroke-width="6"/>
<path d="M2221 219 L2252.6 328 L2221 296.4 L2188.6 328 Z" fill="#000"/>
<line x1="268" y1="1268" x2="268" y2="2028" stroke="#1a1a1a" stroke-width="5.5"/>
<line x1="248" y1="1270.7" x2="268" y2="1270.7" stroke="#262626" stroke-width="4"/>
<line x1="248" y1="1343.9" x2="268" y2="1343.9" stroke="#262626" stroke-width="4"/>
<line x1="248" y1="1417.1" x2="268" y2="1417.1" stroke="#262626" stroke-width="4"/>
<line x1="248" y1="1490.3" x2="268" y2="1490.3" stroke="#262626" stroke-width="4"/>
<line x1="248" y1="1563.5" x2="268" y2="1563.5" stroke="#262626" stroke-width="4"/>
<line x1="248" y1="1636.7" x2="268" y2="1636.7" stroke="#262626" stroke-width="4"/>
<line x1="248" y1="1709.9" x2="268" y2="1709.9" stroke="#262626" stroke-width="4"/>
<line x1="248" y1="1783.1" x2="268" y2="1783.1" stroke="#262626" stroke-width="4"/>
<line x1="248" y1="1856.3" x2="268" y2="1856.3" stroke="#262626" stroke-width="4"/>
<line x1="248" y1="1929.5" x2="268" y2="1929.5" stroke="#262626" stroke-width="4"/>
<line x1="248" y1="2002.7" x2="268" y2="2002.7" stroke="#262626" stroke-width="4"/>
<line x1="248" y1="2003.5" x2="1079.5" y2="2003.5" stroke="#474747" stroke-width="6.5"/>
<line x1="402.7" y1="2003" x2="402.7" y2="2027.5" stroke="#262626" stroke-width="4"/>
<line x1="537.4" y1="2003" x2="537.4" y2="2027.5" stroke="#262626" stroke-width="4"/>
<line x1="672.1" y1="2003" x2="672.1" y2="2027.5" stroke="#262626" stroke-width="4"/>
<line x1="806.8" y1="2003" x2="806.8" y2="2027.5" stroke="#262626" stroke-width="4"/>
<line x1="941.5" y1="2003" x2="941.5" y2="2027.5" stroke="#262626" stroke-width="4"/>
<line x1="1076.2" y1="2003" x2="1076.2" y2="2027.5" stroke="#262626" stroke-width="4"/>
<path d="M268 1987.5 L283 2002.5 L268 2017.5 L253 2002.5 Z" fill="#808080" stroke="#808080" stroke-width="7" stroke-linejoin="round"/>
<circle cx="295.4" cy="1590" r="17.3" fill="#b0007f"/>
<circle cx="322.5" cy="1399.7" r="17.3" fill="#3b3bb4"/>
<circle cx="350" cy="1313.7" r="17.3" fill="#0a6cf5"/>
<circle cx="377.1" cy="1270.7" r="17.3" fill="#00ffff"/>
<circle cx="404.2" cy="1294.9" r="17.3" fill="#00ee00"/>
<circle cx="470.4" cy="1414.6" r="17.3" fill="#7fff00"/>
<circle cx="536.6" cy="1590" r="17.3" fill="#ffe000"/>
<circle cx="672.4" cy="1850.2" r="17.3" fill="#ff8000"/>
<circle cx="808.5" cy="1978.6" r="17.3" fill="#ff4000"/>
<line x1="1381.5" y1="1278.5" x2="1381.5" y2="2028.5" stroke="#1a1a1a" stroke-width="5.5"/>
<line x1="1358" y1="2004.8" x2="1381" y2="2004.8" stroke="#262626" stroke-width="4"/>
<line x1="1358" y1="1901.3" x2="1381" y2="1901.3" stroke="#262626" stroke-width="4"/>
<line x1="1358" y1="1797.8" x2="1381" y2="1797.8" stroke="#262626" stroke-width="4"/>
<line x1="1358" y1="1694.3" x2="1381" y2="1694.3" stroke="#262626" stroke-width="4"/>
<line x1="1358" y1="1590.8" x2="1381" y2="1590.8" stroke="#262626" stroke-width="4"/>
<line x1="1358" y1="1487.3" x2="1381" y2="1487.3" stroke="#262626" stroke-width="4"/>
<line x1="1358" y1="1383.8" x2="1381" y2="1383.8" stroke="#262626" stroke-width="4"/>
<line x1="1358" y1="1280.3" x2="1381" y2="1280.3" stroke="#262626" stroke-width="4"/>
<line x1="1358" y1="2004.8" x2="2158" y2="2004.8" stroke="#1a1a1a" stroke-width="6"/>
<line x1="1603.2" y1="2004" x2="1603.2" y2="2028.5" stroke="#262626" stroke-width="4"/>
<line x1="1825.4" y1="2004" x2="1825.4" y2="2028.5" stroke="#262626" stroke-width="4"/>
<line x1="2047.6" y1="2004" x2="2047.6" y2="2028.5" stroke="#262626" stroke-width="4"/>
<path d="M1381 2002 L1384 2003.1 L1387 2003 L1390 2001.6 L1393 2001.7 L1396 2001.6 L1399 2002.4 L1402 2001.9 L1405 2002.5 L1408 2000.5 L1411 2003.2 L1414 2001.8 L1417 2002.4 L1420 2001.8 L1423 2001.5 L1426 2002.2 L1429 2002.5 L1432 2001.6 L1435 2001.6 L1438 2002.3 L1441 2001 L1444 2000.5 L1447 2002 L1450 2001.1 L1453 2000 L1456 2000.9 L1459 2001.1 L1462 2000.5 L1465 2000.2 L1468 2001.4 L1471 2002.1 L1474 2001.1 L1477 2000.7 L1480 2001.6 L1483 2001.8 L1486 2000.9 L1489 2001.6 L1492 2001.9 L1495 2000.9 L1498 2000.4 L1501 2001.3 L1504 2001.1 L1507 2001.8 L1510 1999.8 L1513 2000.3 L1516 2000.1 L1519 1999.3 L1522 2000.7 L1525 2000.9 L1528 1999.9 L1531 2001.5 L1534 2000.9 L1537 2000.7 L1540 2000.4 L1543 2000.8 L1546 1998.9 L1549 2000.3 L1552 2000.2 L1555 1998.2 L1558 1999.8 L1561 1999.3 L1564 2000 L1567 1998.9 L1570 1999.2 L1573 1999.3 L1576 1998.3 L1579 1999.3 L1582 1998.7 L1585 1999.1 L1588 1998.1 L1591 1999.3 L1594 1998.8 L1597 1998.1 L1600 1998.7 L1603 1999.1 L1606 1999.4 L1609 1996.6 L1612 1998.4 L1615 1998 L1618 1997.4 L1621 1996.5 L1624 1998.2 L1627 1996.1 L1630 1997.4 L1633 1997.9 L1636 1995.4 L1639 1996.3 L1642 1995.4 L1645 1996.5 L1648 1997.4 L1651 1997.7 L1654 1994.5 L1657 1995.3 L1660 1996.2 L1663 1996.8 L1666 1995.7 L1669 1994.7 L1672 1995.4 L1675 1995 L1678 1994.7 L1681 1994.2 L1684 1994.9 L1687 1994.8 L1690 1994.3 L1693 1994.1 L1696 1993.1 L1699 1993.6 L1702 1994.9 L1705 1993.7 L1708 1992.6 L1711 1994.7 L1714 1993.9 L1717 1995.1 L1720 1993.4 L1723 1992.8 L1726 1992 L1729 1994.1 L1732 1995 L1735 1992.2 L1738 1992.2 L1741 1993.1 L1744 1991.9 L1747 1992.3 L1750 1992.1 L1753 1992.4 L1756 1993.1 L1759 1992.1 L1762 1992.8 L1765 1991.6 L1768 1992.1 L1771 1990.1 L1774 1990.5 L1777 1992.2 L1780 1991 L1783 1991.9 L1786 1991.8 L1789 1992.3 L1792 1991.8 L1795 1991.9 L1798 1990.9 L1801 1990.3 L1804 1990.2 L1807 1990.3 L1810 1989.7 L1813 1990 L1816 1990.3 L1819 1990.5 L1822 1989.9 L1825 1988.5 L1828 1989.9 L1831 1990 L1834 1990.6 L1837 1990.1 L1840 1989 L1843 1988.8 L1846 1990.8 L1849 1989.7 L1852 1990.4 L1855 1990.5 L1858 1988 L1861 1988.9 L1864 1988.8 L1867 1988.7 L1870 1988.5 L1873 1988 L1876 1987.8 L1879 1986.3 L1882 1987.1 L1885 1986.4 L1888 1986.9 L1891 1986.2 L1894 1986.9 L1897 1986.8 L1900 1986.2 L1903 1986 L1906 1985.6 L1909 1985 L1912 1985 L1915 1984.5 L1918 1985 L1921 1984.5 L1924 1984.8 L1927 1983.1 L1930 1984.6 L1933 1983.1 L1936 1982.9 L1939 1983.2 L1942 1982.7 L1945 1983.2 L1948 1982.3 L1951 1981.7 L1954 1981.7 L1957 1983.2 L1960 1982 L1963 1980.8 L1966 1981.5 L1969 1980.1 L1972 1982.6 L1975 1979.7 L1978 1981.1 L1981 1981 L1984 1979.2 L1987 1980.4 L1990 1980.7 L1993 1980.1 L1996 1979.7 L1999 1980.1 L2002 1979.3 L2005 1979.2 L2008 1978.6 L2011 1979 L2014 1977.6 L2017 1978.8 L2020 1977.5 L2023 1976.9 L2026 1977.8 L2029 1978.7 L2032 1977.9 L2035 1976.5 L2038 1977.3 L2041 1976.2 L2044 1976.2 L2047 1976.2 L2050 1974.1 L2053 1975.9 L2056 1974.7 L2059 1974.8 L2062 1973.9 L2065 1973.7 L2068 1973.9 L2071 1975.1 L2074 1975.6 L2077 1974 L2080 1974.7 L2083 1973.4 L2086 1971.9 L2089 1973.3 L2092 1973.4 L2095 1972.5 L2098 1972.8 L2101 1972.8 L2104 1971.5 L2107 1970.8 L2110 1971.5 L2113 1971.3 L2116 1971 L2119 1971.9 L2120 1972.4" fill="none" stroke="#ff3c00" stroke-width="10" stroke-linejoin="round" stroke-linecap="round"/>
<path d="M1381 2004 L1384 2004.8 L1387 2004.6 L1390 2004.5 L1393 2005.2 L1396 2003 L1399 2003.4 L1402 2002.8 L1405 2003.7 L1408 2004.5 L1411 2003.7 L1414 2004 L1417 2002 L1420 2003.6 L1423 2002.7 L1426 2004.7 L1429 2003.8 L1432 2003.7 L1435 2002.6 L1438 2002.9 L1441 2002.6 L1444 2001.5 L1447 2001 L1450 2001 L1453 2000.3 L1456 1999.9 L1459 1999.8 L1462 1999.1 L1465 1999.9 L1468 1997.6 L1471 1999.1 L1474 1997.5 L1477 1997 L1480 1995.9 L1483 1996.3 L1486 1995.6 L1489 1995.4 L1492 1994.2 L1495 1994.1 L1498 1994.9 L1501 1993.1 L1504 1991.6 L1507 1992.1 L1510 1990.5 L1513 1990.2 L1516 1989.4 L1519 1987.7 L1522 1985.6 L1525 1985.9 L1528 1985.7 L1531 1984.1 L1534 1983.8 L1537 1983.3 L1540 1981.2 L1543 1981.7 L1546 1981.1 L1549 1979.8 L1552 1978.9 L1555 1977.9 L1558 1977.9 L1561 1975.3 L1564 1974.1 L1567 1973.6 L1570 1971.4 L1573 1969.9 L1576 1969.5 L1579 1969.5 L1582 1968.5 L1585 1965.9 L1588 1964.5 L1591 1964.7 L1594 1963.8 L1597 1962.8 L1600 1962.3 L1603 1961.6 L1606 1959.7 L1609 1958.9 L1612 1956.4 L1615 1955.3 L1618 1955.3 L1621 1954.5 L1624 1953.4 L1627 1952.2 L1630 1951.2 L1633 1950 L1636 1946.8 L1639 1946.5 L1642 1946.3 L1645 1945.2 L1648 1942.3 L1651 1943.3 L1654 1940.8 L1657 1939.7 L1660 1938.9 L1663 1938 L1666 1935 L1669 1935.7 L1672 1933.7 L1675 1931.7 L1678 1930.8 L1681 1928 L1684 1927.9 L1687 1927.3 L1690 1925.3 L1693 1924.2 L1696 1923.1 L1699 1921.9 L1702 1921.4 L1705 1919.2 L1708 1917.7 L1711 1917 L1714 1916.9 L1717 1913.6 L1720 1912.9 L1723 1909.9 L1726 1910.9 L1729 1909 L1732 1908.3 L1735 1905.8 L1738 1903.7 L1741 1904 L1744 1902.6 L1747 1900 L1750 1898.2 L1753 1898.5 L1756 1896.7 L1759 1897.6 L1762 1893.8 L1765 1892.6 L1768 1891.7 L1771 1889.2 L1774 1888.5 L1777 1889.3 L1780 1886.7 L1783 1885 L1786 1883.3 L1789 1883.6 L1792 1882.4 L1795 1880.9 L1798 1879.2 L1801 1878.5 L1804 1877.4 L1807 1875.3 L1810 1875.2 L1813 1871.8 L1816 1871.3 L1819 1870.8 L1822 1869.8 L1825 1867.7 L1828 1867.7 L1831 1867.1 L1834 1865.4 L1837 1864 L1840 1863.3 L1843 1861.7 L1846 1859.3 L1849 1858.8 L1852 1858.8 L1855 1855.7 L1858 1855.4 L1861 1853.8 L1864 1852.2 L1867 1850.9 L1870 1850.6 L1873 1849.5 L1876 1848.3 L1879 1845.7 L1882 1845.4 L1885 1844.7 L1888 1844 L1891 1842.6 L1894 1841.5 L1897 1840.5 L1900 1839 L1903 1836.5 L1906 1836 L1909 1834.2 L1912 1831.7 L1915 1831 L1918 1832.8 L1921 1829.1 L1924 1827 L1927 1827.1 L1930 1827.6 L1933 1825.1 L1936 1824.2 L1939 1822.5 L1942 1821.4 L1945 1821.3 L1948 1819.7 L1951 1817.7 L1954 1817.3 L1957 1816.2 L1960 1813.9 L1963 1813.1 L1966 1811.8 L1969 1809.9 L1972 1810.1 L1975 1807.9 L1978 1806.3 L1981 1804.3 L1984 1803.4 L1987 1804.5 L1990 1801.2 L1993 1801.3 L1996 1799.5 L1999 1799.1 L2002 1798 L2005 1795.7 L2008 1794.9 L2011 1794 L2014 1792.9 L2017 1791.6 L2020 1790.1 L2023 1789.7 L2026 1789 L2029 1787.1 L2032 1784.9 L2035 1784.6 L2038 1783.1 L2041 1782.1 L2044 1782 L2047 1779.1 L2050 1778.1 L2053 1776.1 L2056 1775.4 L2059 1773.9 L2062 1774.5 L2065 1772.2 L2068 1770.3 L2071 1771.1 L2074 1767.3 L2077 1767.9 L2080 1766.8 L2083 1765.3 L2086 1763.4 L2089 1762.3 L2092 1760.9 L2095 1760.6 L2098 1756.9 L2101 1757.2 L2104 1756.5 L2107 1754.7 L2110 1752.5 L2113 1752.5 L2116 1750.9 L2119 1750.9 L2121 1750.6" fill="none" stroke="#ff8000" stroke-width="10" stroke-linejoin="round" stroke-linecap="round"/>
<path d="M1381 2005 L1384 2001 L1387 2004.2 L1390 2003.5 L1393 2004.5 L1396 2003.7 L1399 2004.7 L1402 2003.2 L1405 2002.7 L1408 2003.5 L1411 2003.3 L1414 2002.5 L1417 2002.4 L1420 2003.1 L1423 2002.7 L1426 2001 L1429 2000 L1432 1997.5 L1435 1998.8 L1438 1995.8 L1441 1995.5 L1444 1993.3 L1447 1993.2 L1450 1991.6 L1453 1989.4 L1456 1989.1 L1459 1985.9 L1462 1986.4 L1465 1982.8 L1468 1982.8 L1471 1981.8 L1474 1979.3 L1477 1976.8 L1480 1974.2 L1483 1972.1 L1486 1970.6 L1489 1967.7 L1492 1964.1 L1495 1960.4 L1498 1958.9 L1501 1954 L1504 1951.5 L1507 1948 L1510 1945.8 L1513 1942.1 L1516 1939 L1519 1935.5 L1522 1931.3 L1525 1928.8 L1528 1926.1 L1531 1921.5 L1534 1918.5 L1537 1914.3 L1540 1911.7 L1543 1907.8 L1546 1904.3 L1549 1900.3 L1552 1897.7 L1555 1892.6 L1558 1889.1 L1561 1885.4 L1564 1882.9 L1567 1878.2 L1570 1874.4 L1573 1871.6 L1576 1867.6 L1579 1862.7 L1582 1855.5 L1585 1852.3 L1588 1847.6 L1591 1842.9 L1594 1838.9 L1597 1836.1 L1600 1829.8 L1603 1824.8 L1606 1821.2 L1609 1816 L1612 1811.4 L1615 1806.1 L1618 1802.1 L1621 1798 L1624 1791.7 L1627 1787.7 L1630 1785.6 L1633 1781.2 L1636 1775.9 L1639 1771.3 L1642 1767.7 L1645 1762.6 L1648 1759 L1651 1756.2 L1654 1750.5 L1657 1746.9 L1660 1741.3 L1663 1737.4 L1666 1733.8 L1669 1727.2 L1672 1723.7 L1675 1719.5 L1678 1715.6 L1681 1712.3 L1684 1707.3 L1687 1701.4 L1690 1698.2 L1693 1693.5 L1696 1689.4 L1699 1687.8 L1702 1681.4 L1705 1678.6 L1708 1674 L1711 1671.5 L1714 1667.4 L1717 1663.3 L1720 1659.3 L1723 1656.3 L1726 1650.7 L1729 1646.9 L1732 1642.6 L1735 1640.7 L1738 1635.5 L1741 1630.9 L1744 1627.5 L1747 1625.8 L1750 1619.8 L1753 1616.8 L1756 1612.8 L1759 1608.8 L1762 1604.8 L1765 1601.7 L1768 1598.3 L1771 1593.6 L1774 1594.3 L1777 1589.9 L1780 1586.3 L1783 1583.1 L1786 1579.8 L1789 1578.5 L1792 1575 L1795 1572.9 L1798 1568.9 L1801 1567.8 L1804 1566.7 L1807 1562.4 L1810 1560.9 L1813 1558 L1816 1556.5 L1819 1554.2 L1822 1551.2 L1825 1548.4 L1828 1546.9 L1831 1544.5 L1834 1541.8 L1837 1540.5 L1840 1538.3 L1843 1535.1 L1846 1533.6 L1849 1533.9 L1852 1530.1 L1855 1527.4 L1858 1527.2 L1861 1522.8 L1864 1519.1 L1867 1517.5 L1870 1515.7 L1873 1515.1 L1876 1513.7 L1879 1509.2 L1882 1509.8 L1885 1505.9 L1888 1505.1 L1891 1503.3 L1894 1501.3 L1897 1499.1 L1900 1497.3 L1903 1494.4 L1906 1493.7 L1909 1492.4 L1912 1490.5 L1915 1490 L1918 1487 L1921 1484.9 L1924 1483.9 L1927 1481 L1930 1478.1 L1933 1475.6 L1936 1476.8 L1939 1474.7 L1942 1473.4 L1945 1470.9 L1948 1469.9 L1951 1469.6 L1954 1466.9 L1957 1464.2 L1960 1463.3 L1963 1463.3 L1966 1459.9 L1969 1457.3 L1972 1456.1 L1975 1455.6 L1978 1455.9 L1981 1454.1 L1984 1452.1 L1987 1450.5 L1990 1450.2 L1993 1449 L1996 1447.5 L1999 1446.7 L2002 1445.2 L2005 1446.3 L2008 1442 L2011 1443.1 L2014 1441.3 L2017 1441.8 L2020 1440.1 L2023 1439.8 L2026 1439 L2029 1437.9 L2032 1437.7 L2035 1434.9 L2038 1435.9 L2041 1434.1 L2044 1433.8 L2047 1433.9 L2050 1432.8 L2053 1432.7 L2056 1428.5 L2059 1428.8 L2062 1429.6 L2065 1427.2 L2068 1427.3 L2071 1428.1 L2074 1426.7 L2077 1424.6 L2080 1425.1 L2083 1424.7 L2086 1423.7 L2089 1423.1 L2092 1422.8 L2095 1421 L2098 1421.8 L2101 1420.5 L2104 1421.2 L2107 1420.8 L2110 1419.4 L2113 1420.3 L2116 1419.7 L2119 1419.1 L2121 1419.6" fill="none" stroke="#ffd800" stroke-width="10" stroke-linejoin="round" stroke-linecap="round"/>
<path d="M1381 2004.1 L1384 2002.7 L1387 2002.2 L1390 2001.1 L1393 2003.1 L1396 2004.3 L1399 2003.3 L1402 2003.6 L1405 2003.9 L1408 2002.3 L1411 2005 L1414 2002.1 L1417 2002.9 L1420 2004.7 L1423 2002 L1426 2001.5 L1429 1999.9 L1432 1999.2 L1435 1995.8 L1438 1995.4 L1441 1995.8 L1444 1993.1 L1447 1991.4 L1450 1990.7 L1453 1989.5 L1456 1988.1 L1459 1987.2 L1462 1984.1 L1465 1984.5 L1468 1982 L1471 1981.5 L1474 1979.1 L1477 1976.3 L1480 1974.8 L1483 1971.5 L1486 1970.5 L1489 1967 L1492 1965 L1495 1960.5 L1498 1959.7 L1501 1955 L1504 1953 L1507 1949.3 L1510 1944.4 L1513 1942.2 L1516 1938.2 L1519 1935.6 L1522 1933 L1525 1929 L1528 1925.8 L1531 1920.5 L1534 1918.1 L1537 1914.7 L1540 1911.7 L1543 1906.7 L1546 1904.1 L1549 1900.3 L1552 1895.2 L1555 1892 L1558 1889.7 L1561 1884.9 L1564 1881.4 L1567 1879.5 L1570 1875.2 L1573 1870.8 L1576 1866.8 L1579 1861.9 L1582 1857.2 L1585 1852.7 L1588 1848.8 L1591 1845 L1594 1838.9 L1597 1834.6 L1600 1829.8 L1603 1824.3 L1606 1820.9 L1609 1816.6 L1612 1810.6 L1615 1807.3 L1618 1801.6 L1621 1798.6 L1624 1794.2 L1627 1788.7 L1630 1783.1 L1633 1780.3 L1636 1775.2 L1639 1771.1 L1642 1767.7 L1645 1764.7 L1648 1759.2 L1651 1754.7 L1654 1748.9 L1657 1745.5 L1660 1740.4 L1663 1737.5 L1666 1732.2 L1669 1728.2 L1672 1723.9 L1675 1719.5 L1678 1716.1 L1681 1711.4 L1684 1706.5 L1687 1702.7 L1690 1698.8 L1693 1695.3 L1696 1690.3 L1699 1687.3 L1702 1681.7 L1705 1678.2 L1708 1673.4 L1711 1671.5 L1714 1666.2 L1717 1662.4 L1720 1660 L1723 1655 L1726 1650.8 L1729 1648.2 L1732 1643.4 L1735 1640.3 L1738 1635.4 L1741 1632.3 L1744 1628.7 L1747 1623.9 L1750 1621.4 L1753 1615.8 L1756 1612.2 L1759 1608.9 L1762 1606.2 L1765 1601.7 L1768 1598.3 L1771 1595.6 L1774 1593.2 L1777 1588.8 L1780 1585.1 L1783 1583.2 L1786 1581 L1789 1577.3 L1792 1575.2 L1795 1571 L1798 1570 L1801 1567.6 L1804 1565.6 L1807 1562.9 L1810 1560.9 L1813 1557.1 L1816 1556.2 L1819 1552 L1822 1550.6 L1825 1549.8 L1828 1547.4 L1831 1543 L1834 1542.8 L1837 1539.8 L1840 1537.4 L1843 1536 L1846 1533.8 L1849 1532.7 L1852 1528.3 L1855 1527 L1858 1525.1 L1861 1521.7 L1864 1522 L1867 1520.4 L1870 1516.5 L1873 1515.2 L1876 1512.7 L1879 1511.1 L1882 1508.3 L1885 1507.6 L1888 1504 L1891 1504 L1894 1501.3 L1897 1501 L1900 1495.8 L1903 1495.2 L1906 1492.4 L1909 1491.5 L1912 1490.1 L1915 1487.3 L1918 1485.1 L1921 1483.1 L1924 1483 L1927 1482.1 L1930 1480.3 L1933 1477.7 L1936 1475.2 L1939 1473.9 L1942 1471.3 L1945 1469.5 L1948 1469.9 L1951 1467 L1954 1465.8 L1957 1463.6 L1960 1463.2 L1963 1461.7 L1966 1458.3 L1969 1457.1 L1972 1455.4 L1975 1455.5 L1978 1454 L1981 1451.4 L1984 1452.1 L1987 1449 L1990 1446.7 L1993 1444.7 L1996 1445 L1999 1444.1 L2002 1442.2 L2005 1441.8 L2008 1441.3 L2011 1439.2 L2014 1438.8 L2017 1438.4 L2020 1436.4 L2023 1434.4 L2026 1434.1 L2029 1433.1 L2032 1433.2 L2035 1430 L2038 1428 L2041 1428.3 L2044 1427.1 L2047 1425.4 L2050 1425.1 L2053 1423.8 L2056 1423.4 L2059 1420.8 L2062 1419.9 L2065 1419.5 L2068 1418.2 L2071 1418.7 L2074 1417.2 L2077 1415.9 L2080 1416.2 L2083 1414.5 L2086 1414 L2089 1413 L2092 1411.4 L2095 1410.5 L2098 1409.8 L2101 1408.1 L2104 1407.8 L2107 1408 L2110 1406.7 L2113 1404.9 L2116 1406.7 L2119 1403.2 L2121 1404" fill="none" stroke="#ffdc00" stroke-width="10" stroke-linejoin="round" stroke-linecap="round"/>
<path d="M1381 2002.4 L1384 2002.7 L1387 2003.8 L1390 2003 L1393 2003.7 L1396 2003.8 L1399 2001.9 L1402 2003.7 L1405 2002.1 L1408 2003.9 L1411 2002.3 L1414 2000.8 L1417 2000.8 L1420 2000.1 L1423 1999.4 L1426 1999.1 L1429 1997.2 L1432 1996.6 L1435 1994.3 L1438 1992 L1441 1989.2 L1444 1987.3 L1447 1986.6 L1450 1984.7 L1453 1982.8 L1456 1978.6 L1459 1976.4 L1462 1972.9 L1465 1970.1 L1468 1965.3 L1471 1964.2 L1474 1959.5 L1477 1956.4 L1480 1953.2 L1483 1949.4 L1486 1944.4 L1489 1942.9 L1492 1938.4 L1495 1934.2 L1498 1929.1 L1501 1923.9 L1504 1919.1 L1507 1915.3 L1510 1910.6 L1513 1904.8 L1516 1901.7 L1519 1895.6 L1522 1891.5 L1525 1886.7 L1528 1880.5 L1531 1877.5 L1534 1872.3 L1537 1866 L1540 1862.5 L1543 1857.5 L1546 1852 L1549 1846.5 L1552 1838.9 L1555 1834.3 L1558 1828.6 L1561 1823.7 L1564 1818.4 L1567 1813.9 L1570 1808.3 L1573 1801.6 L1576 1797.5 L1579 1792.3 L1582 1785.4 L1585 1777.9 L1588 1772.4 L1591 1766.5 L1594 1759 L1597 1754 L1600 1746.8 L1603 1742.3 L1606 1735.9 L1609 1729 L1612 1721.8 L1615 1716.8 L1618 1709.9 L1621 1703.7 L1624 1699 L1627 1691.3 L1630 1684.7 L1633 1680.4 L1636 1675.3 L1639 1669.4 L1642 1663.2 L1645 1658.8 L1648 1651.5 L1651 1648.2 L1654 1642.8 L1657 1635.4 L1660 1630.4 L1663 1623.4 L1666 1617.9 L1669 1613.5 L1672 1606.4 L1675 1601.9 L1678 1596.5 L1681 1590.6 L1684 1585.6 L1687 1580.7 L1690 1573.8 L1693 1569.2 L1696 1564.7 L1699 1558.6 L1702 1554.1 L1705 1548.6 L1708 1547 L1711 1543.8 L1714 1539.8 L1717 1537.7 L1720 1534 L1723 1530.3 L1726 1526.7 L1729 1523.1 L1732 1521.1 L1735 1518.6 L1738 1515.3 L1741 1512.3 L1744 1509.4 L1747 1507.4 L1750 1502.7 L1753 1501.2 L1756 1498.9 L1759 1497 L1762 1494.6 L1765 1491.5 L1768 1489 L1771 1486.3 L1774 1486.1 L1777 1483.5 L1780 1481.1 L1783 1478.3 L1786 1476 L1789 1475.8 L1792 1472.9 L1795 1471.4 L1798 1470.5 L1801 1466 L1804 1464.7 L1807 1463.8 L1810 1462.3 L1813 1459.2 L1816 1458.3 L1819 1456.3 L1822 1454.8 L1825 1454 L1828 1452.4 L1831 1451.7 L1834 1449.8 L1837 1449.1 L1840 1445.8 L1843 1445.5 L1846 1442.6 L1849 1441.1 L1852 1439.9 L1855 1440.2 L1858 1438.4 L1861 1435.6 L1864 1436.6 L1867 1434.9 L1870 1432.6 L1873 1431.2 L1876 1430.1 L1879 1427.8 L1882 1429.3 L1885 1425.8 L1888 1424.7 L1891 1423.4 L1894 1421.9 L1897 1420.5 L1900 1420.3 L1903 1417.9 L1906 1416.9 L1909 1415.9 L1912 1416.1 L1915 1413.6 L1918 1412.5 L1921 1412.5 L1924 1410.2 L1927 1409.8 L1930 1409.7 L1933 1408.3 L1936 1406.9 L1939 1407.1 L1942 1404.5 L1945 1403.3 L1948 1401.3 L1951 1401.7 L1954 1401.2 L1957 1399.1 L1960 1400.2 L1963 1398.5 L1966 1397.5 L1969 1394.8 L1972 1395.1 L1975 1394.3 L1978 1391.5 L1981 1392.2 L1984 1391.2 L1987 1389.2 L1990 1390.1 L1993 1390.6 L1996 1388.8 L1999 1386.7 L2002 1386.4 L2005 1386.8 L2008 1384.4 L2011 1384.7 L2014 1383.7 L2017 1383.1 L2020 1383.6 L2023 1380.4 L2026 1381.8 L2029 1380.4 L2032 1379.5 L2035 1377.6 L2038 1378.5 L2041 1377.3 L2044 1374.7 L2047 1375.3 L2050 1374.9 L2053 1374.4 L2056 1374.2 L2059 1373.5 L2062 1374.9 L2065 1374 L2068 1372.6 L2071 1373.4 L2074 1373.5 L2077 1371.8 L2080 1369.9 L2083 1370.8 L2086 1371.2 L2089 1368.8 L2092 1369.2 L2095 1369.5 L2098 1369.3 L2101 1368.6 L2104 1367.7 L2107 1366.9 L2110 1366.1 L2113 1367 L2116 1366.5 L2119 1364.9 L2121 1364.4" fill="none" stroke="#80ff00" stroke-width="10" stroke-linejoin="round" stroke-linecap="round"/>
<line x1="2266" y1="1197" x2="2459" y2="1197" stroke="#2a2a2a" stroke-width="6"/>
<line x1="2221" y1="1312.3" x2="2221" y2="1930" stroke="#111" stroke-width="6"/>
<path d="M2221 2012.2 L2252.6 1901.9 L2221 1932.2 L2188.6 1901.9 Z" fill="#000"/>
<text x="21.5" y="82.3" font-size="90.0" font-weight="bold" fill="#000" textLength="43.8" lengthAdjust="spacingAndGlyphs">a</text>
<text x="1190.5" y="82.3" font-size="95.0" font-weight="bold" fill="#000" textLength="55.6" lengthAdjust="spacingAndGlyphs">b</text>
<text x="21.9" y="1236.3" font-size="90.0" font-weight="bold" fill="#000" textLength="45.3" lengthAdjust="spacingAndGlyphs">c</text>
<text x="1191.2" y="1237.8" font-size="97.0" font-weight="bold" fill="#000" textLength="54.9" lengthAdjust="spacingAndGlyphs">d</text>
<text x="184.0" y="175.5" font-size="64.0" fill="#2e2e2e" textLength="37.9" lengthAdjust="spacingAndGlyphs">0</text>
<text x="162.1" y="325.3" font-size="64.0" fill="#2e2e2e" textLength="60.5" lengthAdjust="spacingAndGlyphs">-5</text>
<text x="135.6" y="474.0" font-size="64.0" fill="#2e2e2e" textLength="88.5" lengthAdjust="spacingAndGlyphs">-10</text>
<text x="141.6" y="622.5" font-size="64.0" fill="#2e2e2e" textLength="84.2" lengthAdjust="spacingAndGlyphs">-15</text>
<text x="122.8" y="775.3" font-size="64.0" fill="#2e2e2e" textLength="100.6" lengthAdjust="spacingAndGlyphs">-20</text>
<text x="128.3" y="922.5" font-size="64.0" fill="#2e2e2e" textLength="95.3" lengthAdjust="spacingAndGlyphs">-25</text>
<text x="249.1" y="996.5" font-size="63.5" fill="#2e2e2e" textLength="36.7" lengthAdjust="spacingAndGlyphs">0</text>
<text x="371.1" y="1001.5" font-size="63.5" fill="#2e2e2e" textLength="61.9" lengthAdjust="spacingAndGlyphs">10</text>
<text x="499.9" y="1001.5" font-size="63.5" fill="#2e2e2e" textLength="73.7" lengthAdjust="spacingAndGlyphs">20</text>
<text x="634.0" y="1001.5" font-size="63.5" fill="#2e2e2e" textLength="73.9" lengthAdjust="spacingAndGlyphs">30</text>
<text x="769.0" y="1001.5" font-size="63.5" fill="#2e2e2e" textLength="74.9" lengthAdjust="spacingAndGlyphs">40</text>
<text x="905.2" y="1001.5" font-size="63.5" fill="#2e2e2e" textLength="71.1" lengthAdjust="spacingAndGlyphs">50</text>
<text x="1040.5" y="997.8" font-size="63.5" fill="#2e2e2e" textLength="70.6" lengthAdjust="spacingAndGlyphs">60</text>
<text x="435.6" y="215.0" font-size="66.0" font-style="italic" fill="#2e2e2e" textLength="34.2" lengthAdjust="spacingAndGlyphs">K</text>
<text x="469.9" y="233.8" font-size="47.0" fill="#2e2e2e" textLength="32.5" lengthAdjust="spacingAndGlyphs">D</text>
<text x="517.7" y="215.0" font-size="66.0" fill="#2e2e2e" textLength="34.4" lengthAdjust="spacingAndGlyphs">=</text>
<text x="566.7" y="215.5" font-size="66.0" fill="#2e2e2e" textLength="81.6" lengthAdjust="spacingAndGlyphs">3.8</text>
<text x="659.1" y="215.5" font-size="66.0" fill="#2e2e2e" textLength="37.6" lengthAdjust="spacingAndGlyphs">&#177;</text>
<text x="708.0" y="215.0" font-size="66.0" fill="#2e2e2e" textLength="68.8" lengthAdjust="spacingAndGlyphs">1.3</text>
<text x="787.6" y="214.0" font-size="66.0" fill="#2e2e2e" textLength="43.0" lengthAdjust="spacingAndGlyphs">&#215;</text>
<text x="837.4" y="215.3" font-size="66.0" fill="#2e2e2e" textLength="62.1" lengthAdjust="spacingAndGlyphs">10</text>
<text x="900.8" y="183.3" font-size="49.0" fill="#2e2e2e" textLength="45.4" lengthAdjust="spacingAndGlyphs">-7</text>
<text x="957.4" y="214.8" font-size="66.0" fill="#2e2e2e" textLength="61.0" lengthAdjust="spacingAndGlyphs">M</text>
<text x="435.8" y="300.6" font-size="66.0" font-style="italic" fill="#2e2e2e" textLength="26.5" lengthAdjust="spacingAndGlyphs">L</text>
<text x="477.5" y="300.8" font-size="66.0" fill="#2e2e2e" textLength="33.7" lengthAdjust="spacingAndGlyphs">=</text>
<text x="526.7" y="301.0" font-size="66.0" fill="#2e2e2e" textLength="115.2" lengthAdjust="spacingAndGlyphs">28.2</text>
<text x="655.9" y="300.6" font-size="66.0" fill="#2e2e2e" textLength="36.0" lengthAdjust="spacingAndGlyphs">&#177;</text>
<text x="704.5" y="301.0" font-size="66.0" fill="#2e2e2e" textLength="86.4" lengthAdjust="spacingAndGlyphs">0.8</text>
<text x="346.7" y="1086.8" font-size="59.0" fill="#262626" textLength="655.2" lengthAdjust="spacingAndGlyphs">[DMPS]/[<tspan font-weight="bold">A</tspan>-syn] (M/M)</text>
<text transform="translate(78.5,948.7) rotate(-90)" font-size="62.0" fill="#262626" textLength="123.6" lengthAdjust="spacingAndGlyphs">MRE</text>
<text transform="translate(78.5,822.0) rotate(-90)" font-size="62.0" fill="#262626" textLength="47.0" lengthAdjust="spacingAndGlyphs">&#215;</text>
<text transform="translate(78.5,769.4) rotate(-90)" font-size="62.0" fill="#262626" textLength="63.6" lengthAdjust="spacingAndGlyphs">10</text>
<text transform="translate(48.5,707.5) rotate(-90)" font-size="46.0" fill="#262626" textLength="48.6" lengthAdjust="spacingAndGlyphs">-3</text>
<text transform="translate(78.5,646.5) rotate(-90)" font-size="62.0" fill="#262626" textLength="130.5" lengthAdjust="spacingAndGlyphs">(deg</text>
<text transform="translate(78.5,520.3) rotate(-90)" font-size="62.0" fill="#262626" textLength="51.5" lengthAdjust="spacingAndGlyphs">&#215;</text>
<text transform="translate(78.5,472.0) rotate(-90)" font-size="62.0" fill="#262626" textLength="84.8" lengthAdjust="spacingAndGlyphs">cm</text>
<text transform="translate(46.3,393.0) rotate(-90)" font-size="45.0" fill="#262626" textLength="38.9" lengthAdjust="spacingAndGlyphs">2</text>
<text transform="translate(78.5,354.8) rotate(-90)" font-size="62.0" fill="#262626" textLength="52.9" lengthAdjust="spacingAndGlyphs">&#215;</text>
<text transform="translate(78.5,304.0) rotate(-90)" font-size="62.0" fill="#262626" textLength="128.1" lengthAdjust="spacingAndGlyphs">dmol</text>
<text transform="translate(46.5,178.2) rotate(-90)" font-size="45.0" fill="#262626" textLength="46.2" lengthAdjust="spacingAndGlyphs">-1</text>
<text transform="translate(78.5,130.7) rotate(-90)" font-size="62.0" fill="#262626" textLength="25.4" lengthAdjust="spacingAndGlyphs">)</text>
<text transform="translate(1252.2,912.2) rotate(-90)" font-size="62.5" fill="#262626" textLength="573.1" lengthAdjust="spacingAndGlyphs">Fluorescence intensity</text>
<text transform="translate(1252.2,330.1) rotate(-90)" font-size="62.5" fill="#262626" textLength="49.4" lengthAdjust="spacingAndGlyphs">&#215;</text>
<text transform="translate(1252.4,274.1) rotate(-90)" font-size="62.5" fill="#262626" textLength="59.2" lengthAdjust="spacingAndGlyphs">10</text>
<text transform="translate(1221.9,213.2) rotate(-90)" font-size="46.0" fill="#262626" textLength="46.0" lengthAdjust="spacingAndGlyphs">-3</text>
<text transform="translate(1252.2,2010.2) rotate(-90)" font-size="62.5" fill="#262626" textLength="573.1" lengthAdjust="spacingAndGlyphs">Fluorescence intensity</text>
<text transform="translate(1252.2,1428.1) rotate(-90)" font-size="62.5" fill="#262626" textLength="49.4" lengthAdjust="spacingAndGlyphs">&#215;</text>
<text transform="translate(1252.4,1372.1) rotate(-90)" font-size="62.5" fill="#262626" textLength="59.2" lengthAdjust="spacingAndGlyphs">10</text>
<text transform="translate(1221.9,1311.2) rotate(-90)" font-size="46.0" fill="#262626" textLength="46.0" lengthAdjust="spacingAndGlyphs">-3</text>
<text transform="translate(62.7,1978.7) rotate(-90)" font-size="62.0" fill="#262626" textLength="687.7" lengthAdjust="spacingAndGlyphs">Normalized maximum rate</text>
<text x="1660.0" y="1081.4" font-size="62.0" fill="#262626" textLength="224.4" lengthAdjust="spacingAndGlyphs">Time (h)</text>
<text x="1660.0" y="2180.2" font-size="61.0" fill="#262626" textLength="224.8" lengthAdjust="spacingAndGlyphs">Time (h)</text>
<text x="343.3" y="2182.2" font-size="60.0" fill="#262626" textLength="653.6" lengthAdjust="spacingAndGlyphs">[DMPS]/[&#945;-syn] (M/M)</text>
<text x="1296.0" y="918.2" font-size="63.5" fill="#2e2e2e" textLength="36.5" lengthAdjust="spacingAndGlyphs">0</text>
<text x="1308.5" y="710.5" font-size="63.5" fill="#2e2e2e" textLength="23.6" lengthAdjust="spacingAndGlyphs">1</text>
<text x="1298.6" y="504.3" font-size="63.5" fill="#2e2e2e" textLength="35.6" lengthAdjust="spacingAndGlyphs">2</text>
<text x="1300.5" y="296.1" font-size="63.5" fill="#2e2e2e" textLength="33.0" lengthAdjust="spacingAndGlyphs">3</text>
<text x="1362.5" y="997.0" font-size="63.5" fill="#2e2e2e" textLength="37.6" lengthAdjust="spacingAndGlyphs">0</text>
<text x="1568.6" y="997.0" font-size="63.5" fill="#2e2e2e" textLength="69.8" lengthAdjust="spacingAndGlyphs">20</text>
<text x="1790.5" y="997.0" font-size="63.5" fill="#2e2e2e" textLength="73.8" lengthAdjust="spacingAndGlyphs">40</text>
<text x="2010.2" y="997.0" font-size="63.5" fill="#2e2e2e" textLength="73.3" lengthAdjust="spacingAndGlyphs">60</text>
<text x="1295.8" y="2022.5" font-size="63.5" fill="#2e2e2e" textLength="38.4" lengthAdjust="spacingAndGlyphs">0</text>
<text x="1307.4" y="1812.5" font-size="63.5" fill="#2e2e2e" textLength="23.3" lengthAdjust="spacingAndGlyphs">1</text>
<text x="1298.5" y="1607.5" font-size="63.5" fill="#2e2e2e" textLength="34.1" lengthAdjust="spacingAndGlyphs">2</text>
<text x="1300.5" y="1399.2" font-size="63.5" fill="#2e2e2e" textLength="33.0" lengthAdjust="spacingAndGlyphs">3</text>
<text x="1364.0" y="2096.5" font-size="63.5" fill="#2e2e2e" textLength="38.9" lengthAdjust="spacingAndGlyphs">0</text>
<text x="1569.0" y="2096.0" font-size="63.5" fill="#2e2e2e" textLength="70.6" lengthAdjust="spacingAndGlyphs">20</text>
<text x="1790.7" y="2095.5" font-size="63.5" fill="#2e2e2e" textLength="74.2" lengthAdjust="spacingAndGlyphs">40</text>
<text x="2010.5" y="2096.0" font-size="63.5" fill="#2e2e2e" textLength="73.9" lengthAdjust="spacingAndGlyphs">60</text>
<text x="146.0" y="1290.5" font-size="63.5" fill="#2e2e2e" textLength="76.3" lengthAdjust="spacingAndGlyphs">1.0</text>
<text x="137.8" y="1434.3" font-size="63.5" fill="#2e2e2e" textLength="83.6" lengthAdjust="spacingAndGlyphs">0.8</text>
<text x="137.8" y="1581.5" font-size="63.5" fill="#2e2e2e" textLength="83.6" lengthAdjust="spacingAndGlyphs">0.6</text>
<text x="136.7" y="1729.5" font-size="63.5" fill="#2e2e2e" textLength="83.5" lengthAdjust="spacingAndGlyphs">0.4</text>
<text x="139.5" y="1878.0" font-size="63.5" fill="#2e2e2e" textLength="84.0" lengthAdjust="spacingAndGlyphs">0.2</text>
<text x="185.2" y="2021.5" font-size="63.5" fill="#2e2e2e" textLength="38.2" lengthAdjust="spacingAndGlyphs">0</text>
<text x="248.0" y="2096.8" font-size="63.5" fill="#2e2e2e" textLength="37.6" lengthAdjust="spacingAndGlyphs">0</text>
<text x="367.7" y="2096.8" font-size="63.5" fill="#2e2e2e" textLength="63.2" lengthAdjust="spacingAndGlyphs">10</text>
<text x="502.4" y="2096.8" font-size="63.5" fill="#2e2e2e" textLength="71.5" lengthAdjust="spacingAndGlyphs">20</text>
<text x="635.9" y="2096.8" font-size="63.5" fill="#2e2e2e" textLength="72.6" lengthAdjust="spacingAndGlyphs">30</text>
<text x="770.7" y="2096.8" font-size="63.5" fill="#2e2e2e" textLength="74.2" lengthAdjust="spacingAndGlyphs">40</text>
<text x="905.5" y="2096.8" font-size="63.5" fill="#2e2e2e" textLength="69.6" lengthAdjust="spacingAndGlyphs">50</text>
<text x="1038.5" y="2096.8" font-size="63.5" fill="#2e2e2e" textLength="69.6" lengthAdjust="spacingAndGlyphs">60</text>
<text x="2254.3" y="85.5" font-size="63.5" fill="#262626" textLength="214.2" lengthAdjust="spacingAndGlyphs">[DMPS]</text>
<text x="2260.0" y="187.5" font-size="63.5" fill="#262626" textLength="202.5" lengthAdjust="spacingAndGlyphs">[&#945;-syn]</text>
<text x="2254.3" y="1175.8" font-size="63.5" fill="#262626" textLength="214.2" lengthAdjust="spacingAndGlyphs">[DMPS]</text>
<text x="2260.0" y="1258.5" font-size="63.5" fill="#262626" textLength="202.5" lengthAdjust="spacingAndGlyphs">[&#945;-syn]</text>
<text x="2329.6" y="275.5" font-size="65.0" fill="#7fff00" textLength="59.2" lengthAdjust="spacingAndGlyphs">15</text>
<text x="2325.8" y="365.0" font-size="65.0" fill="#00ee00" textLength="65.2" lengthAdjust="spacingAndGlyphs">10</text>
<text x="2342.9" y="450.5" font-size="65.0" fill="#00ffff" textLength="35.9" lengthAdjust="spacingAndGlyphs">8</text>
<text x="2342.9" y="541.0" font-size="65.0" fill="#1a75ff" textLength="38.3" lengthAdjust="spacingAndGlyphs">6</text>
<text x="2343.2" y="648.3" font-size="65.0" fill="#4040c0" textLength="36.6" lengthAdjust="spacingAndGlyphs">4</text>
<text x="2342.3" y="783.3" font-size="65.0" fill="#c0209a" textLength="34.5" lengthAdjust="spacingAndGlyphs">2</text>
<text x="2341.2" y="918.0" font-size="65.0" fill="#8a8a8a" textLength="39.0" lengthAdjust="spacingAndGlyphs">0</text>
<text x="2329.6" y="1338.5" font-size="65.0" fill="#7fff00" textLength="59.2" lengthAdjust="spacingAndGlyphs">15</text>
<text x="2323.3" y="1433.5" font-size="65.0" fill="#ffdc00" textLength="74.1" lengthAdjust="spacingAndGlyphs">20</text>
<text x="2323.8" y="1750.0" font-size="65.0" fill="#ff8a1a" textLength="73.0" lengthAdjust="spacingAndGlyphs">30</text>
<text x="2322.7" y="1999.5" font-size="65.0" fill="#ff4a1a" textLength="77.0" lengthAdjust="spacingAndGlyphs">40</text>
</svg>
</div></body></html>
